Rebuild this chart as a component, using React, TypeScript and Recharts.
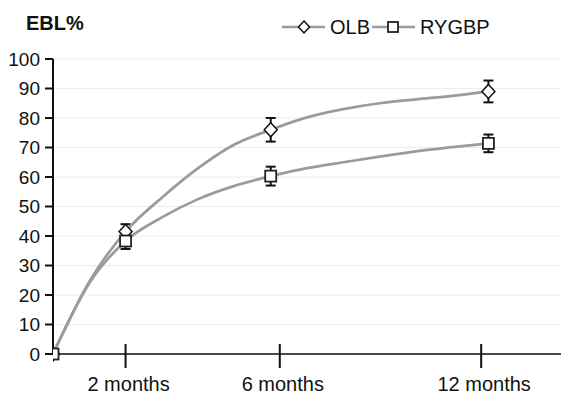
import { LineChart, Line, XAxis, YAxis, CartesianGrid, ErrorBar, Legend } from "recharts";

// (months after surgery, EBL %)
const months = [0, 1, 2, 3, 4, 5, 6, 7, 8, 9, 10, 11, 12];
const olbValues = [0, 24.5, 41.5, 53, 63, 71, 76, 80.2, 83, 85, 86.3, 87.5, 89];
const rygbpValues = [0, 24, 38.3, 46.3, 52.5, 57, 60.3, 63, 65, 66.9, 68.7, 70.1, 71.4];

// time points with a marker + error bar
const measuredMonths = [0, 2, 6, 12];
const olbErrors = [0, 2.5, 4, 3.7];
const rygbpErrors = [0, 2.7, 3.2, 3];

const yTicks = [0, 10, 20, 30, 40, 50, 60, 70, 80, 90, 100];
const xTicks = [2, 6.25, 11.8];
const xTickLabels = ["2 months", "6 months", "12 months"];

const data = months.map((m, i) => {
  const k = measuredMonths.indexOf(m);
  return {
    month: m,
    OLB: olbValues[i],
    RYGBP: rygbpValues[i],
    measured: k >= 0,
    olbErr: k > 0 ? olbErrors[k] : null,
    rygbpErr: k > 0 ? rygbpErrors[k] : null,
  };
});

const INK = "#111";
const LINE = "#9b9b9b";

function Diamond({ cx, cy, r = 7 }: { cx: number; cy: number; r?: number }) {
  const w = r - 0.5;
  return (
    <polygon
      points={`${cx},${cy - r} ${cx + w},${cy} ${cx},${cy + r} ${cx - w},${cy}`}
      fill="#fff"
      stroke={INK}
      strokeWidth={1.5}
    />
  );
}

function Square({ cx, cy, s = 11 }: { cx: number; cy: number; s?: number }) {
  return (
    <rect x={cx - s / 2} y={cy - s / 2} width={s} height={s} fill="#fff" stroke="#222" strokeWidth={1.8} />
  );
}

const olbDot = (p: any) => {
  if (!p.payload || !p.payload.measured) return <g key={`o${p.index}`} />;
  return (
    <g key={`o${p.index}`}>
      <Diamond cx={p.cx} cy={p.cy} />
    </g>
  );
};

const rygbpDot = (p: any) => {
  if (!p.payload || !p.payload.measured) return <g key={`r${p.index}`} />;
  return (
    <g key={`r${p.index}`}>
      <Square cx={p.cx} cy={p.cy} />
    </g>
  );
};

function XTick(props: any) {
  const { x, y, payload } = props;
  const i = xTicks.indexOf(payload.value);
  return (
    <g>
      <line x1={x} x2={x} y1={y - 10} y2={y + 14} stroke={INK} strokeWidth={2} />
      <text x={x + 3} y={y + 37} textAnchor="middle" fill={INK} fontSize={20}>
        {xTickLabels[i]}
      </text>
    </g>
  );
}

const renderLegend = (props: any) => {
  const items = props.payload || [];
  return (
    <svg width={230} height={24}>
      {items.map((item: any, i: number) => {
        const off = i * 90;
        return (
          <g key={item.value}>
            <line x1={off + 2} x2={off + 45} y1={12} y2={12} stroke={LINE} strokeWidth={2.7} />
            {i === 0 ? <Diamond cx={off + 24} cy={12} r={6} /> : <Square cx={off + 23} cy={12} s={10} />}
            <text x={off + 50} y={19} fontSize={20} fill={INK}>
              {item.value}
            </text>
          </g>
        );
      })}
    </svg>
  );
};

export default function App() {
  return (
    <div
      style={{
        position: "absolute",
        left: 0,
        top: 0,
        width: 563,
        height: 396,
        background: "#fff",
        fontFamily: "'Liberation Sans', Arial, sans-serif",
      }}
    >
      <div
        style={{
          position: "absolute",
          left: 26,
          top: 13,
          fontSize: 20,
          lineHeight: "20px",
          fontWeight: "bold",
          color: INK,
        }}
      >
        EBL%
      </div>
      <LineChart width={563} height={396} data={data} margin={{ top: 59, right: 2, bottom: 0, left: 0 }}>
        <CartesianGrid vertical={false} stroke="#ececec" />
        <XAxis
          type="number"
          dataKey="month"
          domain={[0, 14]}
          ticks={xTicks}
          interval={0}
          height={42}
          tickSize={0}
          tickMargin={0}
          tickLine={false}
          axisLine={{ stroke: INK, strokeWidth: 1.5 }}
          tick={<XTick />}
          allowDataOverflow
        />
        <YAxis
          domain={[0, 100]}
          ticks={yTicks}
          interval={0}
          width={53}
          tickSize={8}
          tickMargin={5}
          axisLine={{ stroke: INK, strokeWidth: 2 }}
          tickLine={{ stroke: INK, strokeWidth: 2 }}
          tick={{ fill: INK, fontSize: 19 }}
        />
        <Legend
          layout="horizontal"
          verticalAlign="middle"
          align="center"
          wrapperStyle={{ top: 15, left: 280, width: 230, height: 24 }}
          content={renderLegend}
        />
        <Line
          name="OLB"
          dataKey="OLB"
          type="monotone"
          stroke={LINE}
          strokeWidth={2.7}
          dot={olbDot}
          activeDot={false}
          isAnimationActive={false}
        >
          <ErrorBar dataKey="olbErr" direction="y" width={5} stroke={INK} strokeWidth={2} />
        </Line>
        <Line
          name="RYGBP"
          dataKey="RYGBP"
          type="monotone"
          stroke={LINE}
          strokeWidth={2.7}
          dot={rygbpDot}
          activeDot={false}
          isAnimationActive={false}
        >
          <ErrorBar dataKey="rygbpErr" direction="y" width={5} stroke={INK} strokeWidth={2} />
        </Line>
      </LineChart>
    </div>
  );
}
